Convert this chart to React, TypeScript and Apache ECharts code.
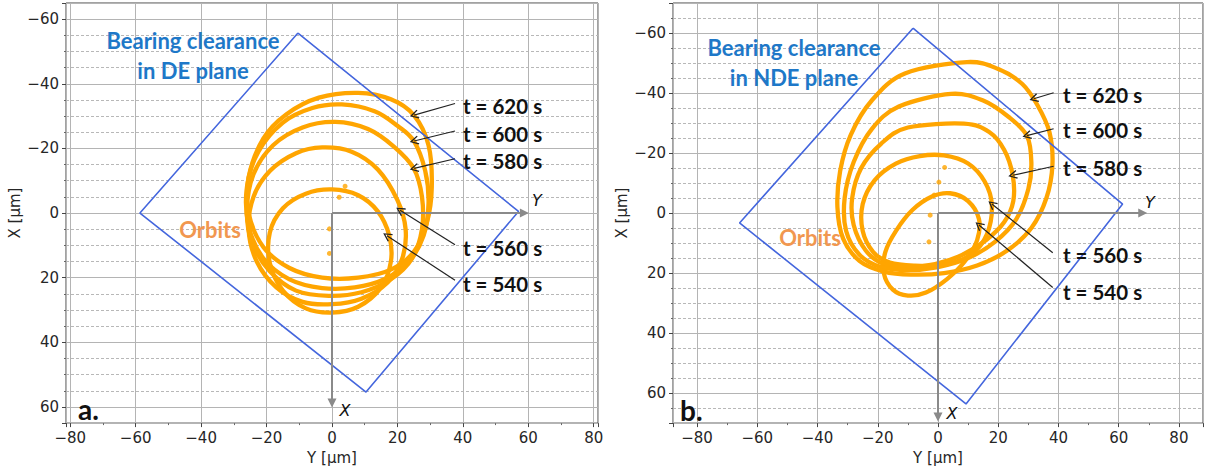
import React, { useEffect, useRef } from "react";
import * as echarts from "echarts";

// Points are [Y, X] in µm (horizontal Y, vertical X pointing down).
type Pt = [number, number];

const ORBIT_TIMES = [540, 560, 580, 600, 620];
const Y_TICKS = [-80, -60, -40, -20, 0, 20, 40, 60, 80];
const X_TICKS = [-60, -40, -20, 0, 20, 40, 60];

// ---- DE plane ----
const DE_CLEARANCE: Pt[] = [[-10.4, -55.7], [57, -0.5], [10.4, 55.4], [-58.7, 0], [-10.4, -55.7]];
const DE_ORBIT_540: Pt[] = [[0, -7.3], [8, -5.5], [14, -0.5], [17.5, 7], [18, 15], [15, 23], [8, 29], [0, 30.8], [-8, 29.5], [-15, 24], [-19, 15.5], [-19, 6], [-15, -1.5], [-8, -6]];
const DE_ORBIT_560: Pt[] = [[-3, -20.3], [6, -19], [14, -13.5], [20, -4], [22.5, 5], [21.5, 14], [17, 21.5], [9, 26.5], [0, 28.2], [-9, 27.5], [-17, 23], [-23, 15], [-25.5, 5], [-24, -5], [-19, -13], [-11, -18.5]];
const DE_ORBIT_580: Pt[] = [[1, -28.2], [11, -26], [19, -20.5], [25, -13.8], [27.5, -5], [27.5, 5], [24.5, 14], [18, 20.5], [9, 24.5], [-1, 25.6], [-11, 24], [-19, 18], [-24.5, 9], [-26, -1], [-24, -12], [-18, -21], [-9, -26.5]];
const DE_ORBIT_600: Pt[] = [[3, -33.6], [13, -31.5], [20, -27], [25, -22.3], [28.5, -13], [29.5, -3], [28, 7], [23.5, 15], [16, 20.5], [7, 23], [-3, 23.2], [-13, 20.5], [-21, 14], [-25.5, 4], [-26, -8], [-22.5, -19], [-15, -28], [-6, -32.5]];
const DE_ORBIT_620: Pt[] = [[8, -37.2], [18, -35.2], [25, -30.3], [29.5, -21], [30.5, -8], [29, 3], [25, 12], [18, 17.5], [8, 20], [-3, 20], [-13, 17], [-21, 10.5], [-25.5, 0], [-25.5, -11], [-21, -23], [-14, -30.5], [-4, -35.7]];
const DE_SAMPLES: Pt[] = [[4, -8.3], [2.2, -4.9], [-0.8, 4.9], [-0.8, 12.5]];

// ---- NDE plane ----
const NDE_CLEARANCE: Pt[] = [[-8.3, -61.6], [61.3, -3], [9.3, 63.6], [-65.9, 3.3], [-8.3, -61.6]];
const NDE_ORBIT_540: Pt[] = [[4, -6.6], [10, -4], [13.6, 2], [13, 9], [9, 16], [3, 22], [-4, 26.5], [-10, 27.5], [-15, 25.5], [-18, 20], [-17.5, 13], [-14, 6], [-8.5, -1], [-2, -5.5]];
const NDE_ORBIT_560: Pt[] = [[2, -19.2], [10, -16.5], [15.5, -10.5], [17.9, -2.6], [16.2, 7.2], [10.9, 13.9], [2, 17.2], [-8, 17.5], [-16, 16.5], [-21.5, 13], [-25, 6], [-25, -3], [-21, -11], [-14, -16.5], [-6, -19]];
const NDE_ORBIT_580: Pt[] = [[8.6, -29.8], [17, -27], [22, -21], [24.8, -12.6], [25, -4], [22, 3], [16, 9], [8, 14], [-1, 17], [-10, 18], [-18, 17], [-24, 12.5], [-28, 4], [-28.5, -5], [-25.5, -15], [-19, -23], [-10, -28.5]];
const NDE_ORBIT_600: Pt[] = [[4.3, -39.7], [15, -37.5], [23.5, -32], [29.5, -25.8], [31, -17], [30, -8], [26, 2], [19, 9.5], [10, 15], [0, 18], [-10, 19], [-19, 18], [-26, 14], [-30.5, 6], [-31, -5], [-28, -17], [-22, -28], [-13, -35.5]];
const NDE_ORBIT_620: Pt[] = [[9.6, -50.3], [20, -48], [28, -43], [33, -36], [37, -27], [38, -16], [36, -5], [31, 5], [23, 12.5], [13, 17.5], [2, 20], [-9, 20.5], [-18, 19.5], [-26, 16], [-31.5, 8.5], [-33.4, -2], [-32.5, -14], [-29, -26], [-22, -37.5], [-11, -46.5]];
const NDE_SAMPLES: Pt[] = [[2.2, -15.2], [0.3, -10.3], [-1.3, -6], [-2.6, 0.7], [-3, 9.6]];

const DE_ORBITS = [DE_ORBIT_540, DE_ORBIT_560, DE_ORBIT_580, DE_ORBIT_600, DE_ORBIT_620];
const NDE_ORBITS = [NDE_ORBIT_540, NDE_ORBIT_560, NDE_ORBIT_580, NDE_ORBIT_600, NDE_ORBIT_620];

// Annotation arrows (tail -> head) in axis units, one per orbit time.
const DE_POINTERS: [Pt, Pt][] = [
  [[37.6, 20.8], [16.8, 7]],
  [[37.6, 9.8], [20.8, -0.9]],
  [[37.6, -16.8], [25.1, -13.8]],
  [[37.6, -25.4], [25.1, -22.3]],
  [[37.6, -33.9], [25.1, -30.3]],
];
const NDE_POINTERS: [Pt, Pt][] = [
  [[38.1, 24.8], [13.6, 4]],
  [[38.1, 13.2], [17.9, -3]],
  [[38.4, -15.6], [24.8, -12.6]],
  [[38.4, -28.1], [29.5, -25.8]],
  [[38.4, -40.1], [31.8, -38.1]],
];

const ORANGE = "#ffa500";
const BLUE_LINE = "#4466dd";
const BLUE_TEXT = "#1e78c8";
const ORANGE_TEXT = "#f1974f";
const TICK_FONT = "DejaVu Sans";
const NOTE_FONT = "Lato";
const CHEVRON = "path://M5,0 L10,9 L8.8,9.8 L5,2.8 L1.2,9.8 L0,9 Z";

const fmt = (ticks: number[]) => (v: number) => {
  const hit = ticks.find((t) => Math.abs(t - v) < 1e-6);
  if (hit === undefined) return "";
  return hit < 0 ? "\u2212" + Math.abs(hit) : String(hit);
};

// Closed Catmull-Rom curve through pixel points, as SVG path data.
function closedSpline(p: number[][]): string {
  const n = p.length;
  const f = (v: number) => v.toFixed(2);
  let d = `M${f(p[0][0])},${f(p[0][1])}`;
  for (let i = 0; i < n; i++) {
    const p0 = p[(i - 1 + n) % n];
    const p1 = p[i];
    const p2 = p[(i + 1) % n];
    const p3 = p[(i + 2) % n];
    const c1x = p1[0] + (p2[0] - p0[0]) / 6;
    const c1y = p1[1] + (p2[1] - p0[1]) / 6;
    const c2x = p2[0] - (p3[0] - p1[0]) / 6;
    const c2y = p2[1] - (p3[1] - p1[1]) / 6;
    d += ` C${f(c1x)},${f(c1y)} ${f(c2x)},${f(c2y)} ${f(p2[0])},${f(p2[1])}`;
  }
  return d + " Z";
}

function panelSeries(idx: number, clearance: Pt[], orbits: Pt[][], samples: Pt[], pointers: [Pt, Pt][], axisLen: number) {
  const base = { xAxisIndex: idx, yAxisIndex: idx };
  const out: any[] = [];
  out.push({
    ...base,
    type: "custom",
    coordinateSystem: "cartesian2d",
    name: "orbits",
    data: orbits.map((o, i) => [o[0][0], o[0][1], i]),
    encode: { x: 0, y: 1 },
    renderItem: (_params: any, api: any) => {
      const orbit = orbits[api.value(2)];
      const px = orbit.map((pt) => api.coord(pt));
      return {
        type: "path",
        shape: { pathData: closedSpline(px) },
        style: { fill: "none", stroke: ORANGE, lineWidth: 4.3 },
      };
    },
    z: 3,
  });
  out.push({
    ...base,
    type: "scatter",
    data: samples,
    symbolSize: 5,
    itemStyle: { color: ORANGE },
    z: 3,
  });
  out.push({
    ...base,
    type: "line",
    data: clearance,
    symbol: "none",
    lineStyle: { color: BLUE_LINE, width: 1.6 },
    z: 4,
  });
  out.push({
    ...base,
    type: "lines",
    coordinateSystem: "cartesian2d",
    symbol: ["none", "triangle"],
    symbolSize: [9, 9],
    lineStyle: { color: "#8a8a8a", width: 2, opacity: 1 },
    data: [
      { coords: [[0, 0], [axisLen, 0]] },
      { coords: [[0, 0], [0, axisLen]] },
    ],
    z: 5,
  });
  out.push({
    ...base,
    type: "lines",
    coordinateSystem: "cartesian2d",
    symbol: ["none", CHEVRON],
    symbolSize: [9, 9],
    lineStyle: { color: "#222", width: 1.2, opacity: 1 },
    data: pointers.map((p) => ({ coords: [p[0], p[1]] })),
    z: 6,
  });
  return out;
}

function axes(idx: number, yMax: number, xMax: number) {
  const gridLine = { show: true, lineStyle: { color: "#b4b4b4", width: 1 } };
  const label = { color: "#262626", fontFamily: TICK_FONT, fontSize: 15, margin: 7 };
  const name = { color: "#262626", fontFamily: TICK_FONT, fontSize: 15 };
  return {
    x: {
      type: "value",
      gridIndex: idx,
      min: -yMax,
      max: yMax,
      splitNumber: 8,
      name: "Y [µm]",
      nameLocation: "middle",
      nameGap: 22,
      nameTextStyle: name,
      axisLine: { show: false, onZero: false },
      axisTick: { show: true, length: 4, lineStyle: { color: "#444" } },
      minorTick: { show: true, splitNumber: 2, length: 2, lineStyle: { color: "#666" } },
      axisLabel: { ...label, formatter: fmt(Y_TICKS) },
      splitLine: gridLine,
    },
    y: {
      type: "value",
      gridIndex: idx,
      min: -xMax,
      max: xMax,
      inverse: true,
      splitNumber: 7,
      name: "X [µm]",
      nameLocation: "middle",
      nameGap: 44,
      nameRotate: 90,
      nameTextStyle: name,
      axisLine: { show: false, onZero: false },
      axisTick: { show: true, length: 4, lineStyle: { color: "#444" } },
      minorTick: { show: true, splitNumber: 4, length: 2, lineStyle: { color: "#666" } },
      minorSplitLine: { show: true, lineStyle: { color: "#b8b8b8", type: [3, 2], width: 1 } },
      axisLabel: { ...label, formatter: fmt(X_TICKS) },
      splitLine: gridLine,
    },
  };
}

function note(text: string, x: number, y: number, fill: string, size: number, align = "left") {
  return {
    type: "text",
    x,
    y,
    z: 20,
    style: {
      text,
      fill,
      fontFamily: NOTE_FONT,
      fontWeight: "bold",
      fontSize: size,
      align,
      textAlign: align,
      verticalAlign: "middle",
      textVerticalAlign: "middle",
    },
  };
}

export default function App() {
  const ref = useRef<HTMLDivElement>(null);
  useEffect(() => {
    if (!ref.current) return;
    const chart = echarts.init(ref.current, undefined, { renderer: "svg" });
    const a0 = axes(0, 81.3, 65);
    const a1 = axes(1, 88, 70);
    const tLabelsDE = [284, 248, 161, 134, 106];
    const tLabelsNDE = [292, 255, 168, 130, 95];
    const axisLetter = (t: string, x: number, y: number) => ({
      type: "text",
      x,
      y,
      z: 20,
      style: { text: t, fill: "#111", fontFamily: TICK_FONT, fontStyle: "italic", fontSize: 16, align: "center", textAlign: "center", verticalAlign: "middle", textVerticalAlign: "middle" },
    });
    chart.setOption({
      animation: false,
      backgroundColor: "#ffffff",
      grid: [
        { left: 66, top: 3, width: 532, height: 423, show: true, borderColor: "#444", borderWidth: 1, backgroundColor: "transparent" },
        { left: 673, top: 3, width: 531, height: 423, show: true, borderColor: "#444", borderWidth: 1, backgroundColor: "transparent" },
      ],
      xAxis: [a0.x, a1.x],
      yAxis: [a0.y, a1.y],
      series: [
        ...panelSeries(0, DE_CLEARANCE, DE_ORBITS, DE_SAMPLES, DE_POINTERS, 58.8),
        ...panelSeries(1, NDE_CLEARANCE, NDE_ORBITS, NDE_SAMPLES, NDE_POINTERS, 68),
      ],
      graphic: [
        note("Bearing clearance", 193, 40, BLUE_TEXT, 22, "center"),
        note("in DE plane", 193, 70, BLUE_TEXT, 22, "center"),
        note("Orbits", 210, 229, ORANGE_TEXT, 22, "center"),
        ...ORBIT_TIMES.map((t, i) => note(`t = ${t} s`, 463, tLabelsDE[i], "#111", 20.5)),
        axisLetter("Y", 537, 200),
        axisLetter("X", 345, 410),
        note("a.", 78, 409, "#111", 28),
        note("Bearing clearance", 794, 47, BLUE_TEXT, 22, "center"),
        note("in NDE plane", 794, 77, BLUE_TEXT, 22, "center"),
        note("Orbits", 810, 237, ORANGE_TEXT, 22, "center"),
        ...ORBIT_TIMES.map((t, i) => note(`t = ${t} s`, 1063, tLabelsNDE[i], "#111", 20.5)),
        axisLetter("Y", 1150, 202),
        axisLetter("X", 952, 413),
        note("b.", 680, 410, "#111", 28),
      ],
    });
    return () => chart.dispose();
  }, []);
  return <div ref={ref} style={{ position: "absolute", left: 0, top: 0, width: 1206, height: 470, background: "#fff" }} />;
}
